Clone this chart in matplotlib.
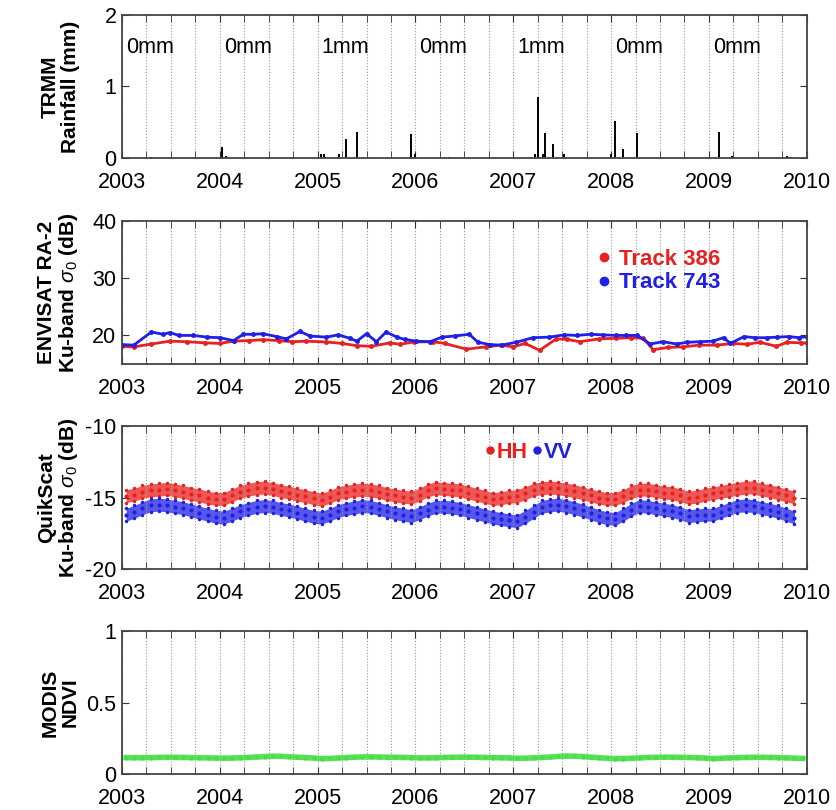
import numpy as np
import matplotlib
matplotlib.use("Agg")
import matplotlib.pyplot as plt
from matplotlib.lines import Line2D

plt.rcParams['font.family'] = ['Liberation Sans', 'DejaVu Sans']
plt.rcParams['mathtext.fontset'] = 'custom'
plt.rcParams['mathtext.rm'] = 'Liberation Sans'
plt.rcParams['mathtext.it'] = 'Liberation Sans:italic'
plt.rcParams['mathtext.bf'] = 'Liberation Sans:bold'

RED = '#e8201f'
BLUE = '#1f1fe6'
GREEN = '#46de46'

# ---- TRMM rainfall (mm) ----
rain_yr = [2003.30, 2004.02, 2004.06, 2005.03, 2005.06, 2005.22, 2005.29, 2005.40, 2005.95,
           2006.00, 2006.34, 2007.22, 2007.25, 2007.30, 2007.32, 2007.41, 2007.52, 2008.00,
           2008.04, 2008.12, 2008.26, 2009.10, 2009.24, 2009.80, 2009.83]
rain_mm = [0.01, 0.16, 0.03, 0.05, 0.05, 0.05, 0.26, 0.36, 0.33,
           0.05, 0.02, 0.05, 0.85, 0.05, 0.35, 0.20, 0.05, 0.05,
           0.52, 0.12, 0.35, 0.36, 0.03, 0.03, 0.02]
annual_years = [2003, 2004, 2005, 2006, 2007, 2008, 2009]
annual_labels = ['0mm', '0mm', '1mm', '0mm', '1mm', '0mm', '0mm']

# ---- ENVISAT RA-2 Ku-band sigma0 (dB) ----
t386_yr = [2003.00, 2003.12, 2003.30, 2003.49, 2003.66, 2003.85, 2004.00, 2004.14, 2004.30,
           2004.44, 2004.60, 2004.74, 2004.88, 2005.09, 2005.25, 2005.40, 2005.55, 2005.74,
           2005.84, 2005.98, 2006.18, 2006.30, 2006.52, 2006.72, 2006.87, 2007.00, 2007.12,
           2007.27, 2007.44, 2007.55, 2007.68, 2007.88, 2008.05, 2008.20, 2008.33, 2008.43,
           2008.58, 2008.74, 2008.90, 2009.08, 2009.25, 2009.39, 2009.52, 2009.69, 2009.80,
           2009.94, 2010.00]
t386_db = [18.1, 18.0, 18.5, 19.0, 18.9, 18.7, 18.6, 19.0, 19.1,
           19.25, 19.1, 18.9, 19.0, 18.85, 18.6, 18.2, 18.1, 18.7,
           18.45, 18.85, 18.9, 18.6, 17.6, 18.0, 18.3, 18.0, 18.6,
           17.4, 19.4, 19.3, 18.9, 19.4, 19.5, 19.6, 19.5, 17.5,
           17.9, 18.0, 18.3, 18.3, 18.6, 18.45, 18.8, 18.1, 18.8,
           18.7, 18.7]
t743_yr = [2003.00, 2003.12, 2003.30, 2003.42, 2003.49, 2003.58, 2003.73, 2003.87, 2004.00,
           2004.14, 2004.24, 2004.34, 2004.44, 2004.58, 2004.68, 2004.82, 2004.92, 2005.09,
           2005.21, 2005.33, 2005.40, 2005.50, 2005.60, 2005.70, 2005.81, 2005.89, 2006.01,
           2006.15, 2006.27, 2006.40, 2006.55, 2006.64, 2006.76, 2006.88, 2007.03, 2007.20,
           2007.37, 2007.52, 2007.65, 2007.79, 2007.92, 2008.05, 2008.15, 2008.27, 2008.40,
           2008.53, 2008.67, 2008.78, 2008.91, 2009.04, 2009.15, 2009.22, 2009.36, 2009.47,
           2009.59, 2009.70, 2009.82, 2009.92, 2010.00]
t743_db = [18.4, 18.3, 20.6, 20.2, 20.5, 20.0, 20.0, 19.7, 19.6,
           19.1, 20.2, 20.2, 20.3, 19.8, 19.4, 20.7, 19.9, 19.7,
           20.1, 19.5, 19.0, 20.3, 18.9, 20.6, 19.7, 19.3, 19.0,
           18.9, 19.7, 19.9, 20.2, 18.8, 18.4, 18.3, 18.8, 19.6,
           19.7, 20.1, 20.0, 20.2, 20.1, 20.0, 20.0, 20.0, 18.5,
           18.9, 18.5, 18.8, 18.9, 19.0, 19.6, 18.6, 19.8, 19.6,
           19.6, 19.7, 19.8, 19.6, 19.8]

# ---- QuikScat Ku-band sigma0 (dB), monthly centre of the daily scatter, Jan 2003 - Nov 2009 ----
hh_db = [-14.9, -14.8, -14.6, -14.5, -14.45, -14.4, -14.5, -14.6, -14.75, -14.85, -15.0, -15.1,
         -15.1, -14.85, -14.6, -14.45, -14.35, -14.3, -14.4, -14.55, -14.65, -14.8, -14.9, -15.05,
         -15.15, -14.95, -14.7, -14.6, -14.5, -14.45, -14.5, -14.6, -14.75, -14.85, -14.95, -15.0,
         -14.8, -14.5, -14.35, -14.4, -14.45, -14.5, -14.65, -14.8, -14.95, -15.1, -15.05, -14.95,
         -14.9, -14.7, -14.45, -14.35, -14.3, -14.35, -14.45, -14.55, -14.7, -14.85, -15.0, -15.1,
         -15.1, -14.9, -14.6, -14.45, -14.45, -14.55, -14.65, -14.7, -14.85, -15.0, -14.95, -14.8,
         -14.7, -14.6, -14.5, -14.4, -14.3, -14.3, -14.45, -14.55, -14.7, -14.85, -15.0]
vv_db = [-16.2, -16.0, -15.75, -15.55, -15.5, -15.55, -15.65, -15.75, -15.9, -16.05, -16.2, -16.35,
         -16.4, -16.2, -15.95, -15.8, -15.65, -15.6, -15.65, -15.8, -15.9, -16.05, -16.2, -16.35,
         -16.4, -16.2, -15.95, -15.8, -15.7, -15.6, -15.65, -15.8, -15.95, -16.1, -16.2, -16.3,
         -16.1, -15.85, -15.65, -15.65, -15.7, -15.8, -15.95, -16.1, -16.25, -16.4, -16.5, -16.6,
         -16.65, -16.35, -16.0, -15.65, -15.55, -15.5, -15.6, -15.75, -15.9, -16.1, -16.3, -16.45,
         -16.5, -16.2, -15.85, -15.6, -15.65, -15.75, -15.85, -15.95, -16.1, -16.3, -16.25, -16.2,
         -16.2, -16.0, -15.8, -15.6, -15.55, -15.6, -15.75, -15.85, -16.0, -16.2, -16.4]
hh_spread = 0.45   # half-width of the daily scatter band
vv_spread = 0.45

# ---- MODIS NDVI, monthly, 2003 - 2009 ----
ndvi = [.115, .114, .114, .115, .116, .117, .117, .116, .115, .114, .113, .112,
        .111, .112, .114, .116, .119, .122, .125, .124, .121, .118, .115, .112,
        .108, .109, .112, .115, .118, .120, .120, .119, .118, .117, .116, .115,
        .113, .113, .114, .116, .117, .118, .118, .117, .116, .115, .114, .113,
        .110, .111, .113, .116, .119, .123, .126, .125, .122, .118, .114, .111,
        .108, .108, .110, .113, .116, .117, .118, .118, .117, .116, .114, .112,
        .108, .110, .113, .115, .116, .117, .117, .116, .115, .113, .111, .109]


def month_centres(n):
    return 2003 + (np.arange(n) + 0.5) / 12.0


def style_axes(ax, ylim, yticks, yticklabels, ylabel):
    ax.set_xlim(2003, 2010)
    ax.set_ylim(*ylim)
    ax.set_xticks(np.arange(2003, 2011))
    ax.set_xticks(np.arange(2003, 2010.01, 0.25), minor=True)
    ax.set_xticklabels([str(y) for y in range(2003, 2011)])
    ax.set_yticks(yticks)
    ax.set_yticklabels(yticklabels)
    ax.tick_params(which='both', direction='in', top=True, right=True,
                   labelsize=15.5, color='#333333', length=5)
    ax.tick_params(axis='x', which='major', pad=10)
    ax.tick_params(axis='y', which='major', pad=4)
    ax.grid(True, axis='x', which='both', ls=':', lw=0.8, color='#9a9a9a')
    for s in ax.spines.values():
        s.set_color('#444444')
        s.set_linewidth(1.3)
    ax.set_ylabel(ylabel, fontsize=15, fontweight='bold', linespacing=1.05)
    ax.yaxis.set_label_coords(-0.062, 0.5)


fig = plt.figure(figsize=(8.37, 8.10), dpi=100)
L, W, H = 0.1458, 0.818, 0.1765
bottoms = [0.805, 0.5506, 0.2975, 0.0444]
axes = [fig.add_axes([L, b, W, H]) for b in bottoms]

# panel 1: rainfall
ax = axes[0]
ax.vlines(rain_yr, 0, rain_mm, color='black', lw=1.4)
for yr, lab in zip(annual_years, annual_labels):
    ax.text(yr + 0.04, 1.55, lab, fontsize=15.5, ha='left', va='center')
style_axes(ax, (0, 2), [0, 1, 2], ['0', '1', '2'], 'TRMM\nRainfall (mm)')

# panel 2: ENVISAT
ax = axes[1]
ax.plot(t386_yr, t386_db, '-o', color=RED, lw=2.0, ms=2.5)
ax.plot(t743_yr, t743_db, '-o', color=BLUE, lw=2.0, ms=2.5)
h386 = Line2D([], [], ls='none', marker='o', color=RED, ms=6)
h743 = Line2D([], [], ls='none', marker='o', color=BLUE, ms=6)
leg = ax.legend([h386, h743], ['Track 386', 'Track 743'], loc='upper left',
                bbox_to_anchor=(0.685, 0.865), frameon=False, handlelength=0.4,
                handletextpad=0.45, labelspacing=0.1, borderaxespad=0,
                prop={'weight': 'bold', 'size': 16})
for txt, c in zip(leg.get_texts(), [RED, BLUE]):
    txt.set_color(c)
style_axes(ax, (15, 40), [20, 30, 40], ['20', '30', '40'],
           'ENVISAT RA-2\nKu-band $\\sigma_0$ (dB)')

# panel 3: QuikScat
ax = axes[2]
xm = month_centres(len(hh_db))
hh = np.array(hh_db)
vv = np.array(vv_db)
ax.fill_between(xm, hh - hh_spread, hh + hh_spread, color=RED, alpha=0.75, lw=0)
ax.fill_between(xm, vv - vv_spread, vv + vv_spread, color=BLUE, alpha=0.75, lw=0)
ax.plot(xm, hh, '.', color=RED, ms=4)
ax.plot(xm, vv, '.', color=BLUE, ms=4)
ax.plot(xm, hh + hh_spread, '.', color=RED, ms=3)
ax.plot(xm, hh - hh_spread, '.', color=RED, ms=3)
ax.plot(xm, vv + vv_spread, '.', color=BLUE, ms=3)
ax.plot(xm, vv - vv_spread, '.', color=BLUE, ms=3)
hhh = Line2D([], [], ls='none', marker='o', color=RED, ms=5)
hvv = Line2D([], [], ls='none', marker='o', color=BLUE, ms=5)
leg = ax.legend([hhh, hvv], ['HH', 'VV'], loc='upper left', ncol=2,
                bbox_to_anchor=(0.52, 0.95), frameon=False, handlelength=0.3,
                handletextpad=0.15, columnspacing=0.3, borderaxespad=0,
                prop={'weight': 'bold', 'size': 15.5})
for txt, c in zip(leg.get_texts(), [RED, BLUE]):
    txt.set_color(c)
style_axes(ax, (-20, -10), [-20, -15, -10], ['-20', '-15', '-10'],
           'QuikScat\nKu-band $\\sigma_0$ (dB)')

# panel 4: NDVI
ax = axes[3]
xn = month_centres(len(ndvi))
ax.plot(xn, ndvi, '-', color=GREEN, lw=4, alpha=0.9)
ax.plot(xn, ndvi, '.', color=GREEN, ms=4)
style_axes(ax, (0, 1), [0, 0.5, 1], ['0', '0.5', '1'], 'MODIS\nNDVI')

fig.savefig('out.png', dpi=100)
